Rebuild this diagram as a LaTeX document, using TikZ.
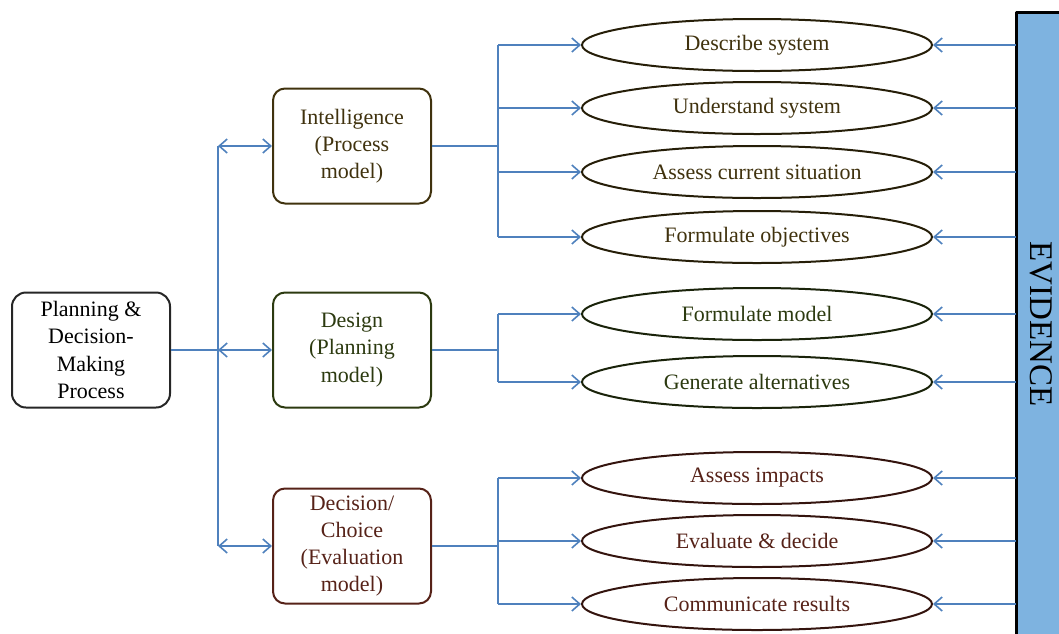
\documentclass[tikz,border=0pt]{standalone}
\usepackage{fontspec}
\setmainfont{Liberation Serif}
\usetikzlibrary{shapes.geometric,arrows.meta}
\definecolor{linkblue}{RGB}{79,129,189}
\definecolor{evfill}{RGB}{126,179,224}
\definecolor{intelink}{RGB}{64,50,14}
\definecolor{designink}{RGB}{44,58,16}
\definecolor{choiceink}{RGB}{86,34,24}
\begin{document}
\begin{tikzpicture}[x=0.5pt, y=-0.5pt, font=\fontsize{11}{13.6}\selectfont, line join=round, >={Straight Barb[length=4pt,width=7pt]},
	phase/.style={draw, rounded corners=6pt, line width=1pt, minimum width=79pt, minimum height=57.5pt, align=center, inner sep=2pt},
	task/.style={draw, ellipse, line width=1pt, minimum width=175pt, minimum height=26pt, inner sep=0pt},
	link/.style={draw=linkblue, line width=0.8pt}]
	\useasboundingbox (0,0) rectangle (1059,633);
	% evidence bar
	\node[fill=evfill, minimum width=40pt, minimum height=320pt, anchor=north west, inner sep=0pt] (evidence) at (1016,12) {};
	\draw[line width=1.5pt] (evidence.south west) -- (evidence.north west) -- (evidence.north east);
	\node[rotate=-90, font=\fontsize{16.5}{18}\selectfont] (evtext) at (1041,324) {EVIDENCE};
	% phases
	\node[phase, draw=black!85, rounded corners=7pt] (plan) at (91,350) {Planning \&\\Decision-\\Making\\Process};
	\node[phase, draw=intelink, text=intelink] (intel) at (352,146) {Intelligence\\(Process\\model)};
	\node[phase, draw=designink, text=designink] (design) at (352,350) {Design\\(Planning\\model)};
	\node[phase, draw=choiceink, text=choiceink] (choice) at (352,546) {Decision/\\Choice\\(Evaluation\\model)};
	% tasks
	\node[task, draw=intelink!60!black, text=intelink] (describe) at (757,45) {Describe system};
	\node[task, draw=intelink!60!black, text=intelink] (understand) at (757,108) {Understand system};
	\node[task, draw=intelink!60!black, text=intelink] (assess) at (757,172) {Assess current situation};
	\node[task, draw=intelink!60!black, text=intelink] (objectives) at (757,237) {Formulate objectives};
	\node[task, draw=designink!60!black, text=designink] (formulate) at (757,314) {Formulate model};
	\node[task, draw=designink!60!black, text=designink] (generate) at (757,382) {Generate alternatives};
	\node[task, draw=choiceink!60!black, text=choiceink] (impacts) at (757,478) {Assess impacts};
	\node[task, draw=choiceink!60!black, text=choiceink] (evaluate) at (757,541) {Evaluate \& decide};
	\node[task, draw=choiceink!60!black, text=choiceink] (communicate) at (757,604) {Communicate results};
	% trunk and forks
	\coordinate (trunk) at (218,350);
	\coordinate (fork) at (498,350);
	\draw[link] (plan.east) -- (plan.east -| trunk);
	\draw[link] (intel.west -| trunk) -- (choice.west -| trunk);
	\foreach \p in {intel,design,choice}
		\draw[link,<->] (\p.west -| trunk) -- (\p.west);
	\draw[link] (intel.east) -- (intel.east -| fork);
	\draw[link] (describe.west -| fork) -- (objectives.west -| fork);
	\draw[link] (design.east) -- (design.east -| fork);
	\draw[link] (formulate.west -| fork) -- (generate.west -| fork);
	\draw[link] (choice.east) -- (choice.east -| fork);
	\draw[link] (impacts.west -| fork) -- (communicate.west -| fork);
	\foreach \t in {describe,understand,assess,objectives,formulate,generate,impacts,evaluate,communicate}{
		\draw[link,->] (\t.west -| fork) -- (\t.west);
		\draw[link,->] (evidence.west |- \t) -- (\t.east);
	}
\end{tikzpicture}
\end{document}
